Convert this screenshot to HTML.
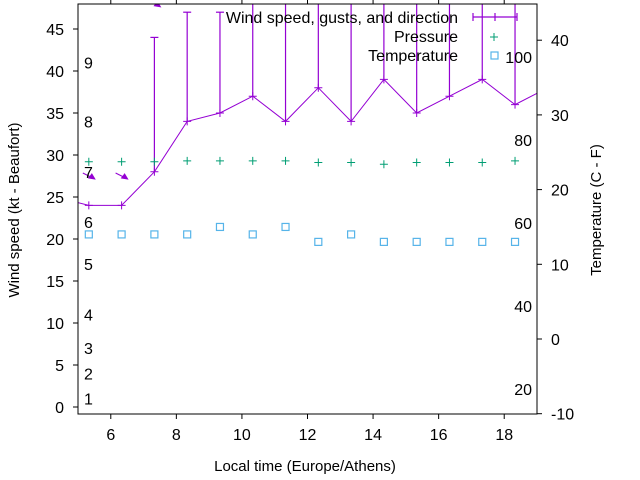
<!DOCTYPE html>
<html><head><meta charset="utf-8"><style>body{margin:0;background:#fff}svg{display:block;font-family:"Liberation Sans",sans-serif}</style></head>
<body>
<svg id="chart" width="640" height="480" viewBox="0 0 640 480" xmlns="http://www.w3.org/2000/svg"></svg>
<script>
const hours = [4.33,5.33,6.33,7.33,8.33,9.33,10.33,11.33,12.33,13.33,14.33,15.33,16.33,17.33,18.33,19.33];
const windSpeed = [25,24,24,28,34,35,37,34,38,34,39,35,37,39,36,38];
const gusts = [null,null,null,44,47,47,52,52,52,52,52,52,52,52,52,null];
const pressure = [null,29.2,29.2,29.2,29.3,29.3,29.3,29.3,29.1,29.1,28.9,29.1,29.1,29.1,29.3,null];
const temperature = [null,14,14,14,14,15,14,15,13,14,13,13,13,13,13,null];
const arrowHours = [5.33,6.33,7.33];
const arrowSpeeds = [27.5,27.5,48];
const leftTicks = [0,5,10,15,20,25,30,35,40,45];
const rightTicks = [-10,0,10,20,30,40];
const xTicks = [6,8,10,12,14,16,18];
const beaufortLabels = ["1","2","3","4","5","6","7","8","9"];
const beaufortKt = [1,4,7,11,17,22,28,34,41];
const fahrenheitLabels = ["20","40","60","80","100"];
const fahrenheitVals = [20,40,60,80,100];

const L=78,R=537,T=4,B=414;
const X=h=>L+(h-5)*(R-L)/14;
const Y=v=>407-v*8.4;
const Y2=c=>339-c*7.47;
const svg=document.getElementById('chart');
const NS='http://www.w3.org/2000/svg';
function mk(tag,attrs,parent){const e=document.createElementNS(NS,tag);for(const k in attrs)e.setAttribute(k,attrs[k]);(parent||svg).appendChild(e);return e;}
const defs=mk('defs',{});
const cp=mk('clipPath',{id:'clip'},defs);mk('rect',{x:L,y:T,width:R-L,height:B-T},cp);
const plot=mk('g',{'clip-path':'url(#clip)'});


const purple='#9400d3';

// gust bars
hours.forEach((h,i)=>{if(gusts[i]==null)return;
 const g=mk('g',{},plot);
 
 
 mk('line',{x1:X(h),x2:X(h),y1:Y(windSpeed[i]),y2:Y(gusts[i]),stroke:purple,'stroke-width':1.2},g);
 mk('line',{x1:X(h)-4,x2:X(h)+4,y1:Y(gusts[i]),y2:Y(gusts[i]),stroke:purple,'stroke-width':1.2},g);
});
// wind line
const wl=mk('polyline',{points:hours.map((h,i)=>X(h)+','+Y(windSpeed[i])).join(' '),fill:'none',stroke:purple,'stroke-width':1},plot);


hours.forEach((h,i)=>{const p=mk('path',{d:`M${X(h)-4},${Y(windSpeed[i])}h8M${X(h)},${Y(windSpeed[i])-4}v8`,stroke:purple,'stroke-width':1},plot);
 
 });
// arrows
arrowHours.forEach((h,i)=>{const x=X(h),y=Y(arrowSpeeds[i]);
 const a=mk('g',{},plot);
 
 
 mk('line',{x1:x-6,y1:y-3,x2:x+4,y2:y+2,stroke:purple,'stroke-width':1},a);
 mk('path',{d:`M${x+6},${y+3}l-6,-1l3,-4z`,fill:purple,stroke:purple},a);
});
// pressure
hours.forEach((h,i)=>{if(pressure[i]==null)return;const x=X(h),y=Y(pressure[i]);
 const p=mk('path',{d:`M${x-4},${y}h8M${x},${y-4}v8`,stroke:'#009e73','stroke-width':1},plot);
 
 });
// temperature
hours.forEach((h,i)=>{if(temperature[i]==null)return;const x=X(h),y=Y2(temperature[i]);
 const r=mk('rect',{x:x-3.5,y:y-3.5,width:7,height:7,fill:'none',stroke:'#56b4e9','stroke-width':1.2},plot);
 
 });

// axes frame
const fr=mk('rect',{x:L,y:T,width:R-L,height:B-T,fill:'none',stroke:'#000','stroke-width':1});


function txt(s,x,y,anchor,size,name){const t=mk('text',{x,y,'text-anchor':anchor,'font-size':size||16,fill:'#000'});t.textContent=s;
 
 return t;}
leftTicks.forEach(v=>{mk('line',{x1:L-5,x2:L,y1:Y(v),y2:Y(v),stroke:'#000'});txt(String(v),L-14,Y(v)+6,'end',16,'left-tick-label');});
rightTicks.forEach(v=>{mk('line',{x1:R,x2:R+5,y1:Y2(v),y2:Y2(v),stroke:'#000'});txt(String(v),R+14,Y2(v)+6,'start',16,'right-tick-label');});
xTicks.forEach(v=>{mk('line',{x1:X(v),x2:X(v),y1:B,y2:B+5,stroke:'#000'});mk('line',{x1:X(v),x2:X(v),y1:0,y2:T,stroke:'#000'});txt(String(v),X(v),B+26,'middle',16,'x-tick-label');});
beaufortLabels.forEach((s,i)=>txt(s,84,Y(beaufortKt[i])+6,'start',16,'beaufort-label'));
fahrenheitLabels.forEach((s,i)=>txt(s,532,Y2((fahrenheitVals[i]-32)*5/9)+6,'end',16,'fahrenheit-label'));
txt('Local time (Europe/Athens)',305,471,'middle',15,'x-axis-title');
const yl=txt('Wind speed (kt - Beaufort)',19,210,'middle',15,'y-axis-title');yl.setAttribute('transform','rotate(-90 19 210)');
const yr=txt('Temperature (C - F)',601,210,'middle',15,'y2-axis-title');yr.setAttribute('transform','rotate(-90 601 210)');
// legend
txt('Wind speed, gusts, and direction',458,23,'end',16,'legend-wind');
mk('path',{d:'M473,17h44M473,13v8M495,13v8M517,13v8',stroke:purple,'stroke-width':1.2});
txt('Pressure',458,42,'end',16,'legend-pressure');
mk('path',{d:'M490,37h8M494,33v8',stroke:'#009e73'});
txt('Temperature',458,61,'end',16,'legend-temperature');
mk('rect',{x:491,y:52,width:7,height:7,fill:'none',stroke:'#56b4e9','stroke-width':1.2});
</script>
</body></html>
